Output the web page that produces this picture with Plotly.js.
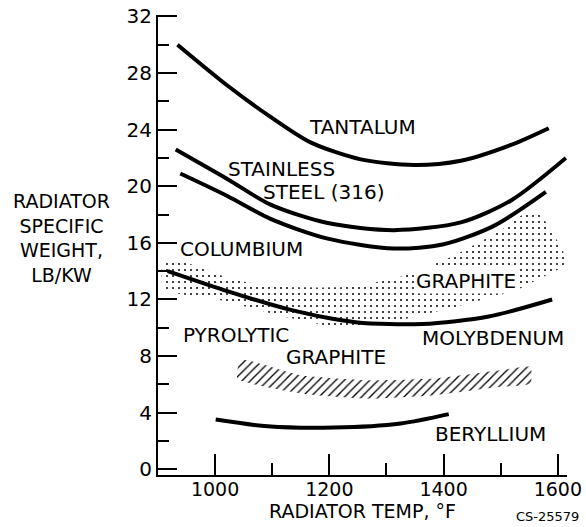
<!DOCTYPE html>
<html>
<head>
<meta charset="utf-8">
<script src="https://cdn.plot.ly/plotly-3.0.1.min.js"></script>
<style>html,body{margin:0;padding:0;background:#fff;}#chart{width:586px;height:527px;}</style>
</head>
<body>
<div id="chart"></div>
<script>
// Radiator temperature (°F) and specific weight (lb/kW)
const tantalumX = [934, 1022, 1097, 1167, 1255, 1348, 1430, 1517, 1584];
const tantalumY = [30.0, 27.1, 24.9, 23.1, 21.9, 21.5, 21.8, 22.9, 24.1];

const steelX = [931, 1022, 1097, 1197, 1313, 1430, 1518, 1614];
const steelY = [22.6, 20.5, 18.7, 17.4, 16.9, 17.45, 19.0, 22.0];

const columbiumX = [939, 1022, 1097, 1197, 1313, 1400, 1488, 1579];
const columbiumY = [20.9, 19.3, 17.7, 16.3, 15.6, 15.9, 17.2, 19.6];

const molybdenumX = [917, 1013, 1129, 1246, 1363, 1479, 1590];
const molybdenumY = [14.0, 12.7, 11.3, 10.4, 10.27, 10.8, 12.0];

const berylliumX = [1001, 1092, 1208, 1325, 1409];
const berylliumY = [3.52, 3.04, 2.95, 3.24, 3.9];

// Graphite band (outline: upper edge left->right, then lower edge right->left)
const graphiteX = [909, 945, 1033, 1120, 1237, 1325, 1413, 1500, 1547, 1565, 1616, 1564, 1529, 1412, 1295, 1208, 1120, 1005, 910, 909];
const graphiteY = [14.8, 14.65, 13.4, 12.9, 12.9, 13.6, 15.0, 16.9, 18.2, 18.2, 14.6, 13.4, 12.7, 11.4, 10.3, 10.1, 10.8, 12.0, 12.7, 14.8];

// Pyrolytic graphite band
const pyroX = [1045, 1150, 1267, 1383, 1500, 1552, 1552, 1500, 1383, 1267, 1150, 1039, 1045];
const pyroY = [7.72, 6.65, 6.3, 6.42, 7.0, 7.24, 6.07, 5.83, 5.24, 5.0, 5.36, 6.42, 7.72];

// Labels
const labelText = ["TANTALUM", "STAINLESS", "STEEL (316)", "COLUMBIUM", "GRAPHITE", "PYROLYTIC", "MOLYBDENUM", "GRAPHITE", "BERYLLIUM"];
const labelX = [1258, 1117, 1189, 1046, 1439, 1036, 1487, 1212, 1482];
const labelY = [24.2, 21.2, 19.6, 15.6, 13.3, 9.5, 9.25, 7.95, 2.53];
const labelBg = [null, null, null, null, "white", null, null, null, null];

const xTicks = [1000, 1200, 1400, 1600];
const yTicks = [0, 4, 8, 12, 16, 20, 24, 28, 32];

const FONT = "DejaVu Sans";
const curveLine = {color: "black", width: 4, shape: "spline", smoothing: 0.8};

const traces = [
  {x: graphiteX, y: graphiteY, type: "scatter", mode: "lines", fill: "toself",
   fillcolor: "rgba(0,0,0,0)", line: {width: 0, shape: "spline", smoothing: 0.5},
   fillpattern: {shape: ".", fgcolor: "black", bgcolor: "rgba(0,0,0,0)", size: 6, solidity: 0.09},
   hoverinfo: "skip", showlegend: false},
  {x: pyroX, y: pyroY, type: "scatter", mode: "lines", fill: "toself",
   fillcolor: "rgba(0,0,0,0)", line: {width: 0, shape: "spline", smoothing: 0.5},
   fillpattern: {shape: "/", fgcolor: "black", bgcolor: "rgba(0,0,0,0)", size: 6, solidity: 0.22},
   hoverinfo: "skip", showlegend: false},
  {x: tantalumX, y: tantalumY, type: "scatter", mode: "lines", line: curveLine, name: "Tantalum", showlegend: false},
  {x: steelX, y: steelY, type: "scatter", mode: "lines", line: curveLine, name: "Stainless steel (316)", showlegend: false},
  {x: columbiumX, y: columbiumY, type: "scatter", mode: "lines", line: curveLine, name: "Columbium", showlegend: false},
  {x: molybdenumX, y: molybdenumY, type: "scatter", mode: "lines", line: curveLine, name: "Molybdenum", showlegend: false},
  {x: berylliumX, y: berylliumY, type: "scatter", mode: "lines", line: curveLine, name: "Beryllium", showlegend: false}
];

const annotations = labelText.map((t, i) => {
  const a = {
    x: labelX[i], y: labelY[i], xref: "x", yref: "y", text: t, showarrow: false,
    font: {family: FONT, size: 20, color: "black"}, xanchor: "center", yanchor: "middle"
  };
  if (labelBg[i]) { a.bgcolor = labelBg[i]; a.borderpad = 0; }
  return a;
});
annotations.push({
  x: -0.237, y: 0.516, xref: "paper", yref: "paper",
  text: "RADIATOR<br>SPECIFIC<br>WEIGHT,<br>LB/KW", showarrow: false, align: "center",
  font: {family: FONT, size: 19, color: "black"}, xanchor: "center", yanchor: "middle"
});
annotations.push({
  x: 0.953, y: -0.0907, xref: "paper", yref: "paper", text: "CS-25579", showarrow: false,
  font: {family: FONT, size: 13, color: "black"}, xanchor: "center", yanchor: "middle"
});

const layout = {
  width: 586, height: 527,
  margin: {l: 158, r: 19, t: 15, b: 52},
  paper_bgcolor: "white", plot_bgcolor: "white",
  showlegend: false,
  font: {family: FONT, color: "black"},
  xaxis: {
    range: [900, 1616], showgrid: false, zeroline: false,
    showline: true, linecolor: "black", linewidth: 2,
    tickmode: "array", tickvals: xTicks, ticktext: xTicks.map(String),
    ticks: "inside", ticklen: 21, tickwidth: 2, tickcolor: "black",
    minor: {tickvals: [1100, 1300, 1500], ticks: "inside", ticklen: 12, tickwidth: 2, tickcolor: "black", showgrid: false},
    tickfont: {family: FONT, size: 19, color: "black"},
    ticklabelstandoff: -4,
    title: {text: "RADIATOR TEMP, °F", font: {family: FONT, size: 19, color: "black"}, standoff: 4},
    automargin: false
  },
  yaxis: {
    range: [-0.4, 32.1], showgrid: false, zeroline: false,
    showline: true, linecolor: "black", linewidth: 2,
    tickmode: "array", tickvals: yTicks, ticktext: yTicks.map(String),
    ticks: "inside", ticklen: 19, tickwidth: 2, tickcolor: "black",
    minor: {tickvals: [2, 6, 10, 14, 18, 22, 26, 30], ticks: "inside", ticklen: 11, tickwidth: 2, tickcolor: "black", showgrid: false},
    tickfont: {family: FONT, size: 20, color: "black"},
    automargin: false
  },
  annotations: annotations
};

Plotly.newPlot("chart", traces, layout, {displayModeBar: false, staticPlot: true});
</script>
</body>
</html>
